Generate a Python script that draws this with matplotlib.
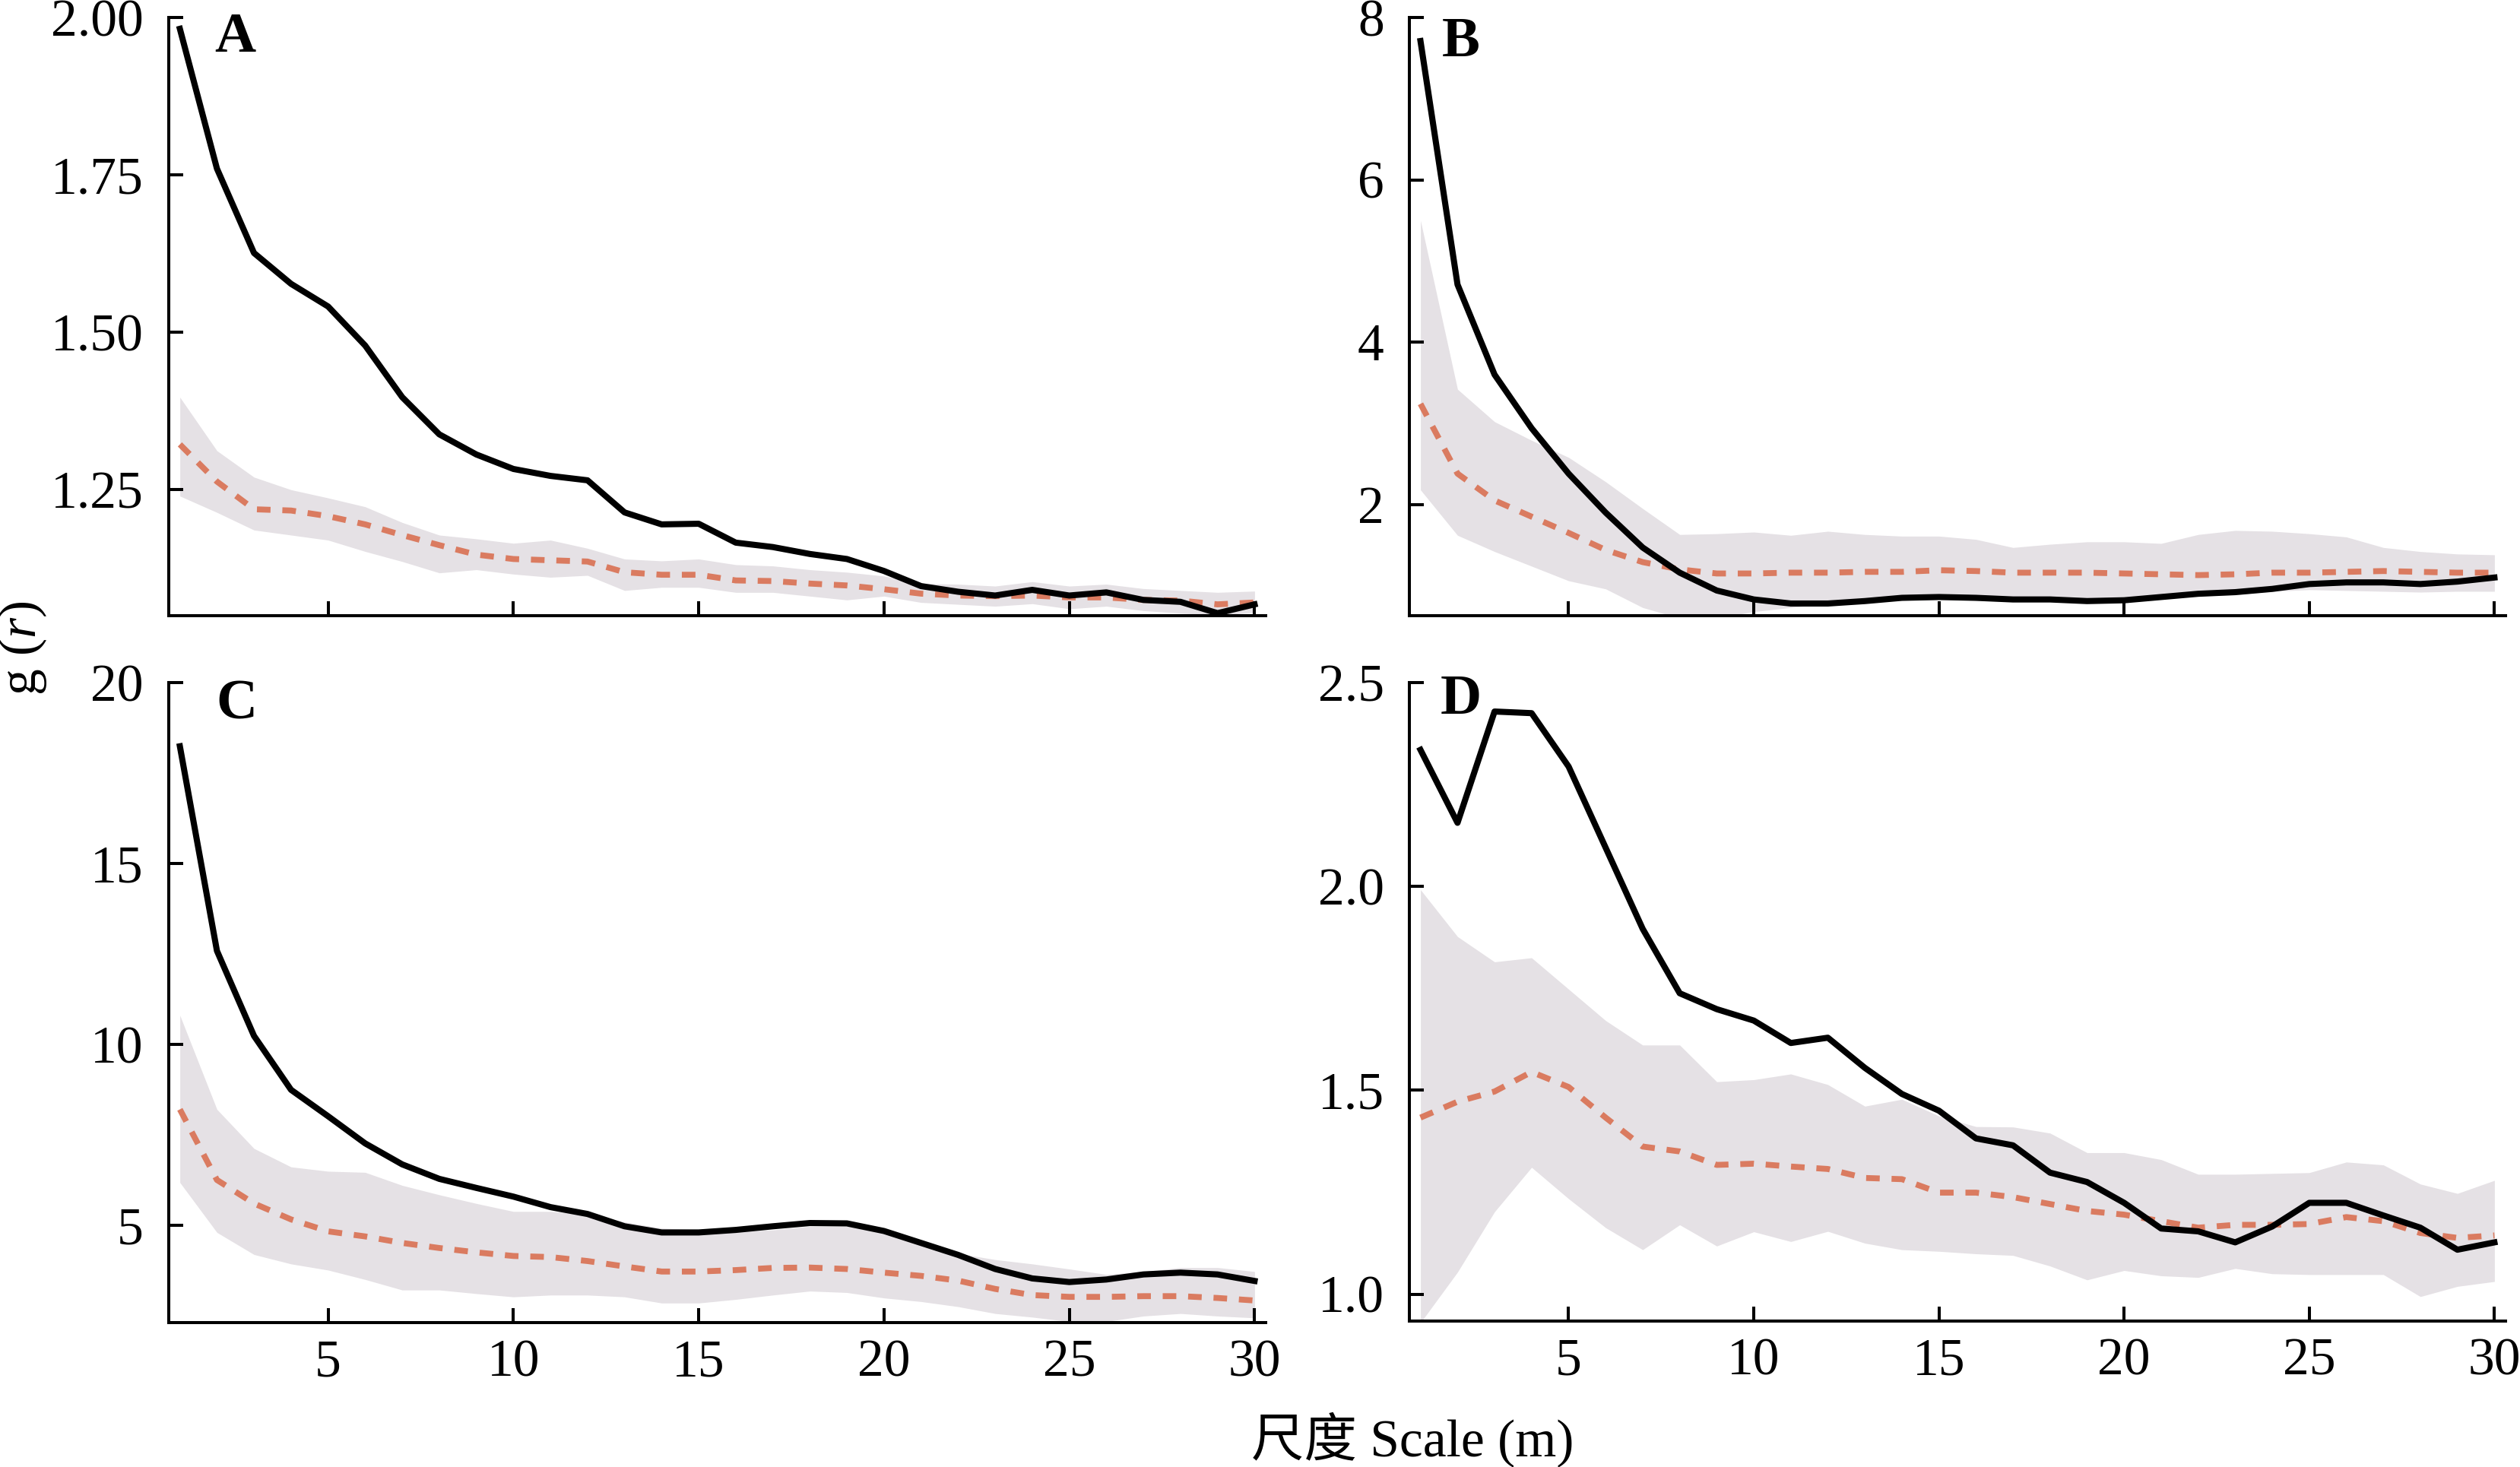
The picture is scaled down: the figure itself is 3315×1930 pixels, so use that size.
import matplotlib
matplotlib.use("Agg")
import matplotlib.pyplot as plt
import numpy as np

plt.rcParams['font.family'] = ['Liberation Serif', 'Noto Sans CJK SC']
plt.rcParams['mathtext.fontset'] = 'custom'
plt.rcParams['mathtext.rm'] = 'Liberation Serif'
plt.rcParams['mathtext.it'] = 'Liberation Serif:italic'

scale = list(range(1, 31))

# Panel A
a_obs = [1.982, 1.760, 1.626, 1.577, 1.541, 1.479, 1.397, 1.338, 1.306, 1.283,
         1.272, 1.265, 1.214, 1.195, 1.196, 1.166, 1.159, 1.148, 1.140, 1.121,
         1.097, 1.088, 1.082, 1.091, 1.082, 1.087, 1.075, 1.072, 1.054, 1.068]
a_mean = [1.322, 1.263, 1.219, 1.217, 1.208, 1.195, 1.178, 1.162, 1.147, 1.140,
          1.138, 1.136, 1.119, 1.115, 1.115, 1.106, 1.105, 1.101, 1.098, 1.092,
          1.085, 1.082, 1.081, 1.082, 1.079, 1.079, 1.075, 1.074, 1.068, 1.071]
a_hi = [1.397, 1.312, 1.270, 1.250, 1.237, 1.223, 1.198, 1.178, 1.172, 1.165,
        1.170, 1.157, 1.140, 1.137, 1.140, 1.131, 1.129, 1.123, 1.119, 1.113,
        1.101, 1.100, 1.097, 1.104, 1.097, 1.100, 1.093, 1.090, 1.087, 1.089]
a_lo = [1.240, 1.214, 1.186, 1.178, 1.170, 1.152, 1.136, 1.118, 1.123, 1.116,
        1.111, 1.114, 1.090, 1.095, 1.095, 1.087, 1.087, 1.081, 1.075, 1.081,
        1.071, 1.068, 1.065, 1.069, 1.061, 1.065, 1.058, 1.054, 1.051, 1.055]

# Panel B
b_obs = [7.71, 4.71, 3.60, 2.94, 2.38, 1.90, 1.47, 1.16, 0.94, 0.83,
         0.78, 0.78, 0.81, 0.85, 0.86, 0.85, 0.83, 0.83, 0.81, 0.82,
         0.86, 0.90, 0.92, 0.96, 1.02, 1.04, 1.04, 1.02, 1.05, 1.10]
b_mean = [3.24, 2.38, 2.05, 1.85, 1.65, 1.44, 1.29, 1.20, 1.15, 1.15,
          1.16, 1.16, 1.17, 1.17, 1.19, 1.18, 1.16, 1.16, 1.16, 1.15,
          1.14, 1.13, 1.14, 1.16, 1.16, 1.17, 1.18, 1.17, 1.16, 1.16]
b_hi = [5.50, 3.42, 3.02, 2.79, 2.58, 2.28, 1.95, 1.63, 1.64, 1.66,
        1.62, 1.67, 1.63, 1.61, 1.61, 1.57, 1.47, 1.51, 1.54, 1.54,
        1.52, 1.63, 1.68, 1.67, 1.64, 1.60, 1.47, 1.42, 1.39, 1.38]
b_lo = [2.18, 1.62, 1.42, 1.24, 1.06, 0.96, 0.73, 0.60, 0.60, 0.68,
        0.73, 0.78, 0.80, 0.82, 0.83, 0.82, 0.82, 0.82, 0.82, 0.82,
        0.85, 0.87, 0.89, 0.93, 0.95, 0.94, 0.93, 0.92, 0.93, 0.93]

# Panel C
c_obs = [18.24, 12.59, 10.24, 8.75, 8.02, 7.27, 6.69, 6.29, 6.04, 5.80,
         5.51, 5.32, 4.98, 4.81, 4.81, 4.88, 4.98, 5.07, 5.06, 4.85,
         4.52, 4.19, 3.80, 3.54, 3.44, 3.51, 3.65, 3.70, 3.65, 3.47]
c_mean = [8.21, 6.26, 5.61, 5.17, 4.84, 4.70, 4.52, 4.38, 4.26, 4.16,
          4.13, 4.02, 3.87, 3.73, 3.73, 3.77, 3.83, 3.84, 3.80, 3.70,
          3.61, 3.48, 3.25, 3.08, 3.03, 3.03, 3.05, 3.05, 3.00, 2.93]
c_hi = [10.81, 8.21, 7.13, 6.62, 6.50, 6.47, 6.11, 5.85, 5.61, 5.39,
        5.39, 5.32, 5.10, 4.93, 4.88, 4.84, 4.88, 4.98, 4.98, 4.84,
        4.52, 4.23, 4.06, 3.94, 3.80, 3.65, 3.73, 3.84, 3.84, 3.73]
c_lo = [6.19, 4.81, 4.20, 3.94, 3.77, 3.51, 3.22, 3.22, 3.12, 3.03,
        3.08, 3.08, 3.03, 2.86, 2.86, 2.96, 3.08, 3.19, 3.15, 3.00,
        2.90, 2.76, 2.57, 2.47, 2.35, 2.35, 2.50, 2.57, 2.50, 2.45]

# Panel D
d_obs = [2.335, 2.156, 2.429, 2.425, 2.294, 2.095, 1.896, 1.738, 1.699, 1.671,
         1.616, 1.629, 1.555, 1.491, 1.450, 1.382, 1.365, 1.298, 1.275, 1.224,
         1.161, 1.154, 1.127, 1.166, 1.224, 1.224, 1.193, 1.163, 1.109, 1.127]
d_mean = [1.433, 1.472, 1.497, 1.545, 1.508, 1.433, 1.362, 1.350, 1.317, 1.320,
          1.313, 1.307, 1.285, 1.282, 1.249, 1.249, 1.238, 1.221, 1.204, 1.195,
          1.179, 1.163, 1.170, 1.170, 1.172, 1.189, 1.179, 1.150, 1.138, 1.144]
d_hi = [1.992, 1.877, 1.815, 1.825, 1.748, 1.671, 1.611, 1.611, 1.521, 1.526,
        1.540, 1.514, 1.461, 1.478, 1.437, 1.411, 1.410, 1.395, 1.347, 1.347,
        1.330, 1.294, 1.294, 1.296, 1.298, 1.324, 1.317, 1.270, 1.247, 1.279]
d_lo = [0.930, 1.054, 1.202, 1.311, 1.234, 1.163, 1.109, 1.170, 1.118, 1.153,
        1.129, 1.154, 1.125, 1.109, 1.105, 1.099, 1.095, 1.069, 1.035, 1.058,
        1.045, 1.041, 1.063, 1.050, 1.048, 1.048, 1.048, 0.994, 1.019, 1.031]

panel_letters = ['A', 'B', 'C', 'D']
y_ticks = [[1.25, 1.50, 1.75, 2.00], [2, 4, 6, 8], [5, 10, 15, 20], [1.0, 1.5, 2.0, 2.5]]
y_fmt = ['%.2f', '%.0f', '%.0f', '%.1f']
y_lims = [(1.05, 2.0), (0.63, 8.0), (2.32, 20.0), (0.934, 2.5)]
x_ticks = [5, 10, 15, 20, 25, 30]

series = [(a_obs, a_mean, a_hi, a_lo), (b_obs, b_mean, b_hi, b_lo),
          (c_obs, c_mean, c_hi, c_lo), (d_obs, d_mean, d_hi, d_lo)]

W, H = 3315, 1930
fig = plt.figure(figsize=(W / 200, H / 200), dpi=200)

rects = [
    (222 / W, 1 - 810 / H, (1665 - 222) / W, (810 - 23) / H),
    (1854 / W, 1 - 810 / H, (3296 - 1854) / W, (810 - 23) / H),
    (222 / W, 1 - 1740 / H, (1665 - 222) / W, (1740 - 898) / H),
    (1854 / W, 1 - 1738 / H, (3296 - 1854) / W, (1738 - 898) / H),
]
letter_pos = [(0.042, 0.943), (0.030, 0.935), (0.043, 0.943), (0.028, 0.951)]

band_col = '#E5E1E5'
red_col = '#DA7B60'

for i in range(4):
    ax = fig.add_axes(rects[i])
    obs, mean, hi, lo = series[i]
    ax.fill_between(scale, lo, hi, color=band_col, linewidth=0, zorder=1)
    ax.plot(scale, mean, color=red_col, lw=2.8, dashes=(2.3, 2.0),
            dash_capstyle='butt', zorder=2)
    ax.plot(scale, obs, color='black', lw=2.9, zorder=3)
    ax.set_xlim(0.7, 30.3)
    ax.set_ylim(*y_lims[i])
    ax.set_xticks(x_ticks)
    ax.set_yticks(y_ticks[i])
    ax.set_yticklabels([y_fmt[i] % v for v in y_ticks[i]])
    for s in ['top', 'right']:
        ax.spines[s].set_visible(False)
    for s in ['left', 'bottom']:
        ax.spines[s].set_linewidth(1.45)
    ax.tick_params(axis='both', direction='in', length=6.8, width=1.45,
                   labelsize=25, colors='black')
    ax.tick_params(axis='y', pad=12)
    ax.tick_params(axis='x', pad=8)
    if i < 2:
        ax.tick_params(axis='x', labelbottom=False)
    ax.text(letter_pos[i][0], letter_pos[i][1], panel_letters[i], transform=ax.transAxes,
            fontsize=27, fontweight='bold', ha='left', va='baseline')

fig.text(0.5606, 0.007, '尺度 Scale (m)', fontsize=25, ha='center', va='baseline')
fig.text(0.009, 0.558, r'g ($\mathit{r}$)', fontsize=25, ha='center', va='center',
         rotation=90)

fig.savefig('out.png', dpi=200)
